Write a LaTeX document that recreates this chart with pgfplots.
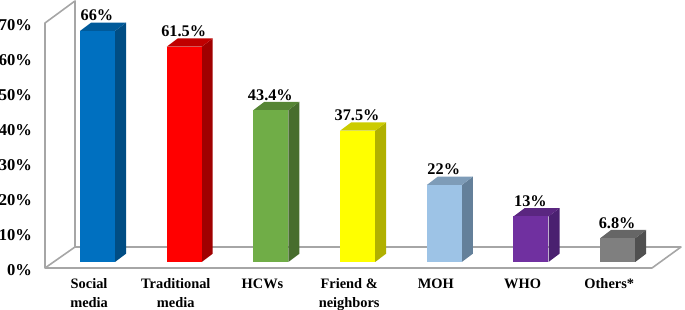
\documentclass[border=0pt]{standalone}
\usepackage{fontspec}
\setmainfont{Liberation Serif}
\usepackage{pgfplots}
\pgfplotsset{compat=1.18}
\definecolor{wall}{HTML}{A6A6A6}
\definecolor{bluef}{HTML}{0070C0}\definecolor{bluet}{HTML}{005A9A}\definecolor{blues}{HTML}{004D84}
\definecolor{redf}{HTML}{FF0000}\definecolor{redt}{HTML}{C00000}\definecolor{reds}{HTML}{A00000}
\definecolor{greenf}{HTML}{70AD47}\definecolor{greent}{HTML}{568535}\definecolor{greens}{HTML}{476D2D}
\definecolor{yelf}{HTML}{FFFF00}\definecolor{yelt}{HTML}{CCCC00}\definecolor{yels}{HTML}{B0B000}
\definecolor{ltf}{HTML}{9DC3E6}\definecolor{ltt}{HTML}{7E9CB8}\definecolor{lts}{HTML}{64809A}
\definecolor{purf}{HTML}{7030A0}\definecolor{purt}{HTML}{5A2680}\definecolor{purs}{HTML}{4A2070}
\definecolor{grayf}{HTML}{7F7F7F}\definecolor{grayt}{HTML}{666666}\definecolor{grays}{HTML}{505050}
\pgfplotsset{
  base/.style={scale only axis,width=455.25pt,height=183.75pt,
    xmin=-0.6055,xmax=6.3957,ymin=0,ymax=70,clip=false,
    axis line style={draw=none},tick style={draw=none},
    anchor=south west},
  val/.style={ybar,bar width=26.25pt,bar shift=0pt,draw=none,fill=#1,
    every node near coord/.style={anchor=base,yshift=7.5pt,xshift=-0.4pt,text=black,
      font=\fontsize{12.2pt}{13pt}\selectfont\bfseries}},
}
\begin{document}
\begin{tikzpicture}
\path[use as bounding box] (0,0) rectangle (513.75pt,232.5pt);
\begin{axis}[base,at={(33.75pt,31.5pt)},
  ytick={0,10,20,30,40,50,60,70},
  yticklabels={0\%,10\%,20\%,30\%,40\%,50\%,60\%,70\%},
  yticklabel style={font=\fontsize{12.4pt}{13pt}\selectfont\bfseries,anchor=east,xshift=-6.3pt,yshift=-1.5pt},
  xtick={0,1,2,3,4,5,6},
  xticklabels={Social\\media,Traditional\\media,HCWs,Friend \&\\neighbors,MOH,WHO,Others*},
  xticklabel style={font=\fontsize{10.8pt}{14.25pt}\selectfont\bfseries,align=center,anchor=north,xshift=-6.3pt,yshift=-4.5pt},
]
\addplot[wall,line width=1.2pt,line join=round] coordinates {(-0.2595,6)(-0.6055,0)(6.396,0)(6.730,6)(-0.2595,6)(-0.2595,76.3)(-0.6055,70)(-0.6055,0)};
\end{axis}
\begin{axis}[base,at={(33.75pt,36pt)},xtick=\empty,ytick=\empty]
% Social media
\addplot[draw=none,fill=blues] coordinates {(.202,0)(.329,2.37)(.329,68.37)(.202,66)} -- cycle;
\addplot[draw=none,fill=bluet] coordinates {(-.202,66)(.202,66)(.329,68.37)(-.075,68.37)} -- cycle;
\addplot[val=bluef,nodes near coords={66\%}] coordinates {(0,66)};
% Traditional media
\addplot[draw=none,fill=reds] coordinates {(1.202,0)(1.329,2.37)(1.329,63.87)(1.202,61.5)} -- cycle;
\addplot[draw=none,fill=redt] coordinates {(.798,61.5)(1.202,61.5)(1.329,63.87)(.925,63.87)} -- cycle;
\addplot[val=redf,nodes near coords={61.5\%}] coordinates {(1,61.5)};
% HCWs
\addplot[draw=none,fill=greens] coordinates {(2.202,0)(2.329,2.37)(2.329,45.77)(2.202,43.4)} -- cycle;
\addplot[draw=none,fill=greent] coordinates {(1.798,43.4)(2.202,43.4)(2.329,45.77)(1.925,45.77)} -- cycle;
\addplot[val=greenf,nodes near coords={43.4\%}] coordinates {(2,43.4)};
% Friend & neighbors
\addplot[draw=none,fill=yels] coordinates {(3.202,0)(3.329,2.37)(3.329,39.87)(3.202,37.5)} -- cycle;
\addplot[draw=none,fill=yelt] coordinates {(2.798,37.5)(3.202,37.5)(3.329,39.87)(2.925,39.87)} -- cycle;
\addplot[val=yelf,nodes near coords={37.5\%}] coordinates {(3,37.5)};
% MOH
\addplot[draw=none,fill=lts] coordinates {(4.202,0)(4.329,2.37)(4.329,24.37)(4.202,22)} -- cycle;
\addplot[draw=none,fill=ltt] coordinates {(3.798,22)(4.202,22)(4.329,24.37)(3.925,24.37)} -- cycle;
\addplot[val=ltf,nodes near coords={22\%}] coordinates {(4,22)};
% WHO
\addplot[draw=none,fill=purs] coordinates {(5.202,0)(5.329,2.37)(5.329,15.37)(5.202,13)} -- cycle;
\addplot[draw=none,fill=purt] coordinates {(4.798,13)(5.202,13)(5.329,15.37)(4.925,15.37)} -- cycle;
\addplot[val=purf,nodes near coords={13\%}] coordinates {(5,13)};
% Others
\addplot[draw=none,fill=grays] coordinates {(6.202,0)(6.329,2.37)(6.329,9.17)(6.202,6.8)} -- cycle;
\addplot[draw=none,fill=grayt] coordinates {(5.798,6.8)(6.202,6.8)(6.329,9.17)(5.925,9.17)} -- cycle;
\addplot[val=grayf,nodes near coords={6.8\%}] coordinates {(6,6.8)};
\end{axis}
\end{tikzpicture}
\end{document}
